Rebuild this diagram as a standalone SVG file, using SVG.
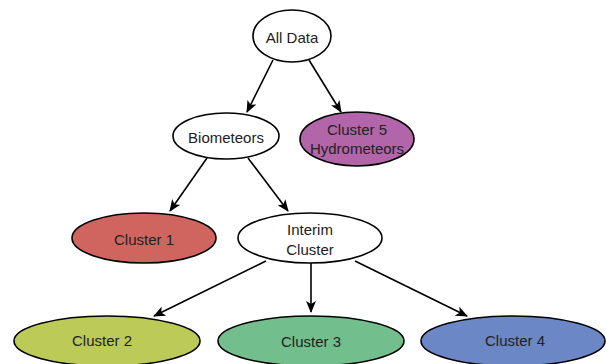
<svg xmlns="http://www.w3.org/2000/svg" width="606" height="364" viewBox="0 0 606 364">
<defs>
<marker id="ah" viewBox="0 0 12 10" refX="11" refY="5" markerWidth="12" markerHeight="10" markerUnits="userSpaceOnUse" orient="auto">
<path d="M0,0 L12,5 L0,10 L3,5 z" fill="#000"/>
</marker>
<style>
.n ellipse{stroke:#000;stroke-width:1.6}
.n text{font-family:"Liberation Sans",Arial,sans-serif;font-size:15px;fill:#222;text-anchor:middle;dominant-baseline:central}
.c line{stroke:#000;stroke-width:1.6;marker-end:url(#ah)}
</style>
</defs>
<rect width="606" height="364" fill="#fff"/>
<g class="c" id="connectors">
<line x1="273" y1="60" x2="247" y2="112"/>
<line x1="309" y1="60" x2="341" y2="112"/>
<line x1="207" y1="158" x2="170" y2="211"/>
<line x1="248" y1="158" x2="288" y2="211"/>
<line x1="266" y1="261" x2="154" y2="316"/>
<line x1="311" y1="263" x2="311" y2="312"/>
<line x1="355" y1="261" x2="467" y2="316"/>
</g>
<g class="n" id="all-data"><ellipse cx="292" cy="36" rx="39" ry="26" fill="#fff"/><text x="292" y="37">All Data</text></g>
<g class="n" id="biometeors"><ellipse cx="226" cy="136" rx="53" ry="23" fill="#fff"/><text x="226" y="137">Biometeors</text></g>
<g class="n" id="cluster5"><ellipse cx="357" cy="139" rx="57" ry="27" fill="#b265a8"/><text x="357" y="129">Cluster 5</text><text x="357" y="148">Hydrometeors</text></g>
<g class="n" id="cluster1"><ellipse cx="144" cy="238" rx="72" ry="25" fill="#d0655f"/><text x="144" y="239">Cluster 1</text></g>
<g class="n" id="interim"><ellipse cx="310" cy="238" rx="72" ry="25" fill="#fff"/><text x="310" y="229">Interim</text><text x="310" y="249">Cluster</text></g>
<g class="n" id="cluster2"><ellipse cx="107" cy="341" rx="93" ry="25" fill="#bccb58"/><text x="102" y="340">Cluster 2</text></g>
<g class="n" id="cluster3"><ellipse cx="311" cy="341" rx="93" ry="25" fill="#72bf8d"/><text x="311" y="341">Cluster 3</text></g>
<g class="n" id="cluster4"><ellipse cx="513" cy="341" rx="92" ry="25" fill="#6b87c5"/><text x="515" y="340">Cluster 4</text></g>
</svg>
